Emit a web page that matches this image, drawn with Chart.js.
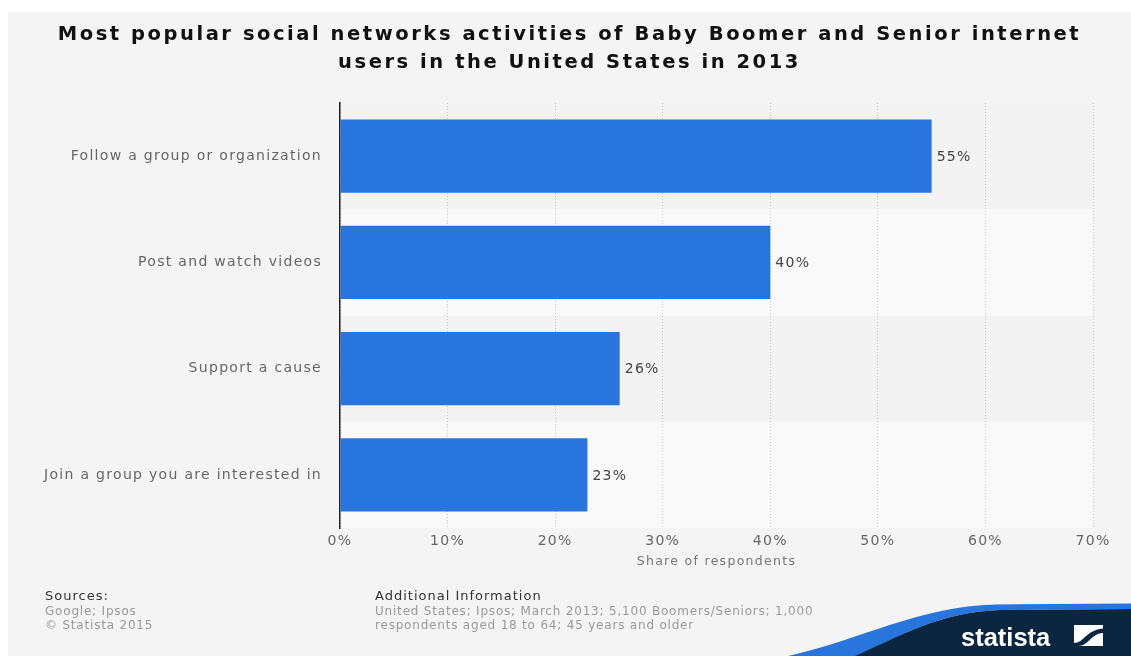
<!DOCTYPE html>
<html>
<head>
<meta charset="utf-8">
<script src="https://cdn.jsdelivr.net/npm/chart.js@4/dist/chart.umd.min.js"></script>
<style>
  html, body { margin: 0; padding: 0; background: #ffffff; }
  #wrap { position: relative; width: 1131px; height: 656px; overflow: hidden; }
  #panel { position: absolute; left: 8px; top: 12px; width: 1123px; height: 644px; background: #f4f4f4; }
  canvas { position: absolute; left: 0; top: 0; }
  .title { position: absolute; left: 8px; width: 1123px; text-align: center;
           font-family: "DejaVu Sans", sans-serif; font-weight: bold; font-size: 19.5px;
           letter-spacing: 2.55px; color: #111; line-height: 28px; }
  .foot { position: absolute; font-family: "DejaVu Sans", sans-serif;
          font-size: 12px; line-height: 14px; color: #999; white-space: nowrap; letter-spacing: 0.8px; }
  .foot .head { color: #333; font-size: 13px; line-height: 16px; letter-spacing: 1px; }
  #logo { position: absolute; left: 0; top: 0; }
</style>
</head>
<body>
<div id="wrap">
  <div id="panel"></div>
  <canvas id="chart" width="1131" height="656"></canvas>
  <div class="title" style="top:20px">Most popular social networks activities of Baby Boomer and Senior internet<br>users in the United States in 2013</div>
  <div class="foot" style="left:45px; top:588px">
    <div class="head">Sources:</div>
    <div>Google; Ipsos</div>
    <div>© Statista 2015</div>
  </div>
  <div class="foot" style="left:375px; top:588px">
    <div class="head">Additional Information</div>
    <div>United States; Ipsos; March 2013; 5,100 Boomers/Seniors; 1,000</div>
    <div>respondents aged 18 to 64; 45 years and older</div>
  </div>
  <svg id="logo" width="1131" height="656" viewBox="0 0 1131 656">
    <path d="M 788 656 C 860 640, 920 606, 995 604.5 L 1131 603.5 L 1131 609 L 1000 610 C 940 612, 900 636, 856 656 Z" fill="#2876dd"/>
    <path d="M 855 656 C 900 636, 940 612, 1000 610 L 1131 609 L 1131 656 Z" fill="#0b2640"/>
    <text x="961" y="646" fill="#ffffff" font-family="Liberation Sans, Arial, sans-serif" font-weight="bold" font-size="25.5">statista</text>
    <rect x="1074" y="625" width="29" height="21" fill="#ffffff"/>
    <path d="M 1074 643 C 1084 643, 1086 630, 1103 628.5 L 1103 633 C 1090 634, 1089 646, 1078 646 L 1074 646 Z" fill="#0b2640"/>
  </svg>
</div>
<script>
// Survey results: share of respondents per activity
const categories = [
  'Follow a group or organization',
  'Post and watch videos',
  'Support a cause',
  'Join a group you are interested in'
];
const shares = [55, 40, 26, 23];
const xTicks = [0, 10, 20, 30, 40, 50, 60, 70];

const BAR_BLUE = '#2876dd';
const FONT_FAMILY = '"DejaVu Sans", sans-serif';

// Alternating row shading behind the bars
const rowBands = {
  id: 'rowBands',
  beforeDraw(chart) {
    const { ctx, chartArea } = chart;
    ctx.letterSpacing = '1.3px';
    const y = chart.scales.y;
    const half = (chartArea.bottom - chartArea.top) / categories.length / 2;
    ctx.save();
    categories.forEach((c, i) => {
      const center = y.getPixelForValue(i);
      ctx.fillStyle = i % 2 === 0 ? '#f3f3f3' : '#f9f9f9';
      ctx.fillRect(chartArea.left, center - half, chartArea.right - chartArea.left, half * 2);
    });
    ctx.restore();
  }
};

// Percentage labels at the end of each bar
const valueLabels = {
  id: 'valueLabels',
  afterDatasetsDraw(chart) {
    const { ctx } = chart;
    const meta = chart.getDatasetMeta(0);
    ctx.save();
    ctx.font = '14px ' + FONT_FAMILY;
    ctx.fillStyle = '#444';
    ctx.textAlign = 'left';
    ctx.textBaseline = 'middle';
    meta.data.forEach((bar, i) => {
      ctx.fillText(shares[i] + '%', bar.x + 5, bar.y + 1);
    });
    ctx.restore();
  }
};

new Chart(document.getElementById('chart'), {
  type: 'bar',
  data: {
    labels: categories,
    datasets: [{
      data: shares,
      backgroundColor: BAR_BLUE,
      borderWidth: 0,
      barPercentage: 0.69,
      categoryPercentage: 1
    }]
  },
  options: {
    indexAxis: 'y',
    responsive: false,
    animation: false,
    events: [],
    layout: { padding: { top: 103, right: 38, bottom: 78, left: 0 } },
    plugins: { legend: { display: false }, tooltip: { enabled: false }, title: { display: false } },
    scales: {
      x: {
        min: 0,
        max: 70,
        afterBuildTicks(scale) { scale.ticks = xTicks.map(v => ({ value: v })); },
        afterFit(scale) { scale.height = 50; },
        ticks: {
          callback: v => v + '%',
          color: '#666',
          font: { family: FONT_FAMILY, size: 14 },
          padding: 5,
          maxRotation: 0
        },
        grid: { color: '#c8c8c8', lineWidth: 1, drawTicks: false },
        border: { display: false, dash: [1, 2] },
        title: {
          display: true,
          text: 'Share of respondents',
          color: '#777',
          font: { family: FONT_FAMILY, size: 12.5 },
          padding: { top: 4, bottom: 9 }
        }
      },
      y: {
        afterFit(scale) { scale.width = 340; },
        ticks: {
          color: '#666',
          font: { family: FONT_FAMILY, size: 14 },
          padding: 18
        },
        grid: { display: false, drawTicks: false },
        border: { display: true, color: '#222', width: 1.5 }
      }
    }
  },
  plugins: [rowBands, valueLabels]
});
</script>
</body>
</html>
